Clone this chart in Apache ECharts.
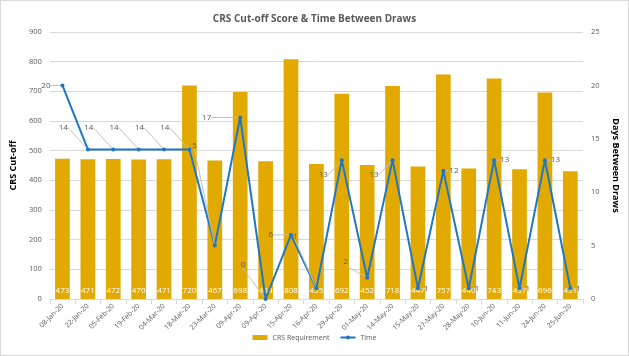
<!DOCTYPE html>
<html><head><meta charset="utf-8">
<script src="https://cdn.jsdelivr.net/npm/echarts@6/dist/echarts.min.js"></script>
<style>html,body{margin:0;padding:0;background:#fff}#c{width:629px;height:356px;box-sizing:border-box;border:1px solid #d9d9d9}</style>
</head><body><div id="c"></div>
<script>
const categories = ['08-Jan-20','22-Jan-20','05-Feb-20','19-Feb-20','04-Mar-20','18-Mar-20','23-Mar-20','09-Apr-20','09-Apr-20','15-Apr-20','16-Apr-20','29-Apr-20','01-May-20','14-May-20','15-May-20','27-May-20','28-May-20','10-Jun-20','11-Jun-20','24-Jun-20','25-Jun-20'];
const crsRequirement = [473,471,472,470,471,720,467,698,464,808,455,692,452,718,447,757,440,743,437,696,431];
const timeDays = [20,14,14,14,14,14,5,17,0,6,1,13,2,13,1,12,1,13,1,13,1];
const leftTicks = {min:0, max:900, interval:100};
const rightTicks = {min:0, max:25, interval:5};

// label placement for the Time series: [side, dx, dy]
const timeLabelPlace = [
  ['left',-6,0],['left',-14,-22],['left',-14,-22],['left',-14,-22],['left',-14,-22],['left',-14,-22],
  ['left',-12,-100],['left',-23,0],['left',-14,-34],['left',-12,0],['left',-13,-52],
  ['left',-8,15],['left',-13,-16],['left',-8,15],
  ['right',0,0],['right',0,0],['right',0,0],['right',0,0],['right',0,0],['right',0,0],['right',0,0]
];

const chart = echarts.init(document.getElementById('c'));
const gray = '#595959';
chart.setOption({
  animation:false,
  title:{text:'CRS Cut-off Score & Time Between Draws',left:'center',top:8,
    textStyle:{fontFamily:'Open Sans',fontSize:10,fontWeight:'bold',color:'#595959'}},
  grid:{left:44,right:34,top:31,bottom:56},
  legend:{bottom:9,left:'center',itemWidth:15,itemHeight:5,itemGap:10,
    textStyle:{fontFamily:'Open Sans',fontSize:7,color:gray},
    data:[{name:'CRS Requirement',icon:'rect'},{name:'Time'}]},
  xAxis:{type:'category',data:categories,
    axisLine:{lineStyle:{color:'#d9d9d9'}},
    axisTick:{show:true,lineStyle:{color:'#d9d9d9'}},
    axisLabel:{rotate:45,fontSize:7,color:gray,fontFamily:'Open Sans',interval:0,margin:6}},
  yAxis:[
    {type:'value',min:leftTicks.min,max:leftTicks.max,interval:leftTicks.interval,
     name:'CRS Cut-off',nameLocation:'middle',nameGap:27,
     nameTextStyle:{fontFamily:'Open Sans',fontSize:9,fontWeight:'bold',color:'#000'},
     axisLabel:{fontSize:7.5,color:gray,fontFamily:'Open Sans'},
     axisLine:{show:false},axisTick:{show:false},
     splitLine:{lineStyle:{color:'#d9d9d9'}}},
    {type:'value',min:rightTicks.min,max:rightTicks.max,interval:rightTicks.interval,
     name:'Days Between Draws',nameLocation:'middle',nameGap:28,nameRotate:-90,
     nameTextStyle:{fontFamily:'Open Sans',fontSize:9,fontWeight:'bold',color:'#000'},
     axisLabel:{fontSize:7.5,color:gray,fontFamily:'Open Sans'},
     axisLine:{show:false},axisTick:{show:false},splitLine:{show:false}}
  ],
  series:[
    {name:'CRS Requirement',type:'bar',data:crsRequirement,barWidth:'58%',yAxisIndex:0,
     itemStyle:{color:'#E2AA00'},
     label:{show:true,position:'insideBottom',distance:4,color:'#fff',fontSize:8,fontFamily:'Open Sans'}},
    {name:'Time',type:'line',data:timeDays.map((v,i)=>({value:v,label:{position:timeLabelPlace[i][0]}})),
     yAxisIndex:1,symbol:'circle',symbolSize:4,
     lineStyle:{color:'#1F77C4',width:2},itemStyle:{color:'#1F77C4'},
     label:{show:true,fontSize:8,color:gray,fontFamily:'Open Sans',distance:4},
     labelLine:{show:true,lineStyle:{color:'#bfbfbf',width:1}},
     labelLayout:function(p){const t=timeLabelPlace[p.dataIndex];return {dx:t[1],dy:t[2]};}}
  ]
});
</script></body></html>
